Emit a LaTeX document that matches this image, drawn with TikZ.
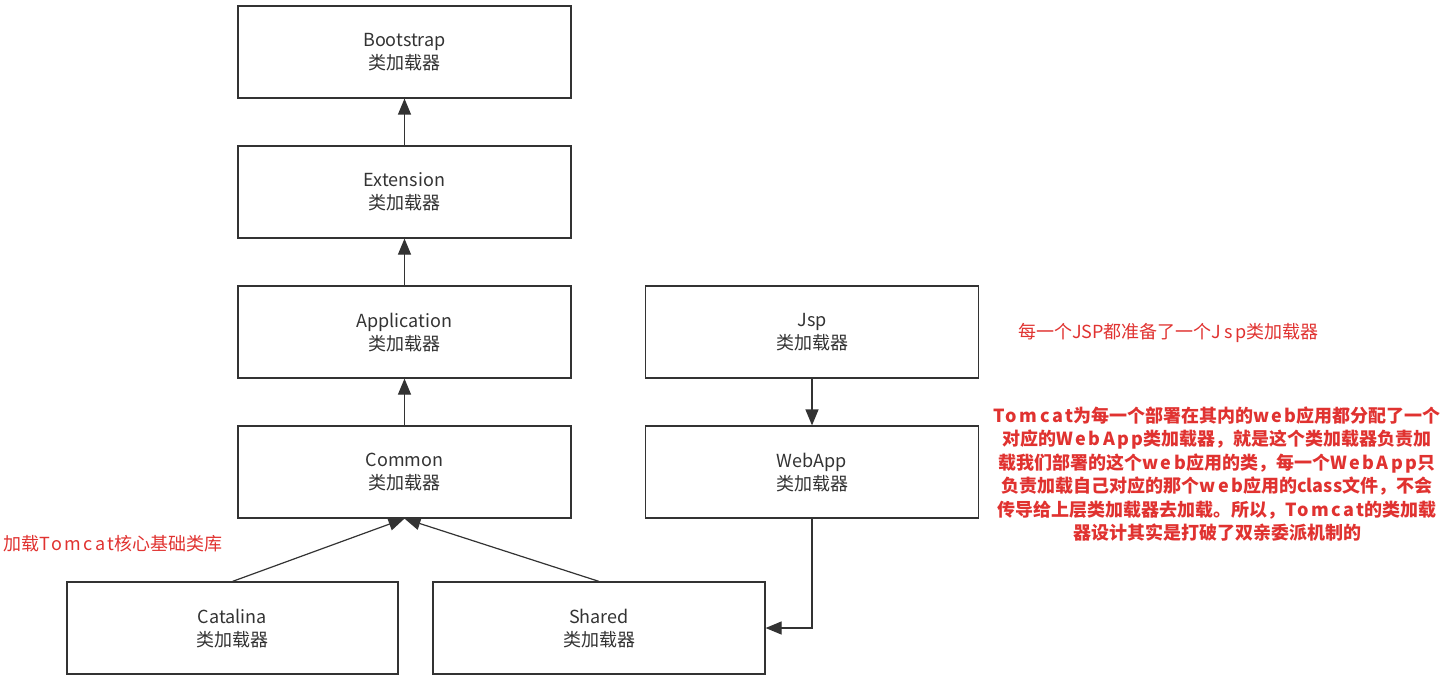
\documentclass[tikz,border=0pt]{standalone}
\usepackage{fontspec}
\setmainfont{Noto Sans CJK SC}
\usetikzlibrary{arrows.meta}
\definecolor{boxline}{RGB}{51,51,51}
\definecolor{note}{RGB}{224,50,48}
\newcommand{\wide}[1]{{\addfontfeature{LetterSpace=14}#1}}
\begin{document}
\begin{tikzpicture}[x=1pt,y=-1pt]
\tikzstyle{loader}=[anchor=center,minimum width=333pt,minimum height=92pt,rectangle,draw=boxline,line width=1.2pt,text=boxline,font=\fontsize{18}{23}\selectfont,align=center,inner sep=0pt,text depth=1pt]
\tikzstyle{arrow}=[-{Triangle[length=16pt,width=13pt]},draw=boxline,line width=1.2pt]
\tikzstyle{remark}=[text=note,font=\fontsize{18}{23.5}\selectfont,align=center,inner sep=0pt]

\useasboundingbox (0,0) rectangle (1450,682);

\node [loader] at (404.5, 52) (boot) {Bootstrap\\类加载器};
\node [loader] at (404.5,192) (ext)  {Extension\\类加载器};
\node [loader] at (404.5,332) (app)  {Application\\类加载器};
\node [loader] at (404.5,472) (common) {Common\\类加载器};

\node [loader] at (812,332) (jsp)    {Jsp\\类加载器};
\node [loader] at (812,472) (webapp) {WebApp\\类加载器};

\node [loader,minimum width=331pt] at (232.5,628) (catalina) {Catalina\\类加载器};
\node [loader,minimum width=332pt] at (599,628) (shared) {Shared\\类加载器};

\draw [arrow] (ext) -- (boot);
\draw [arrow] (app) -- (ext);
\draw [arrow] (common) -- (app);
\draw [arrow] (jsp) -- (webapp);
\draw [arrow] (catalina.north) -- (common.south);
\draw [arrow] (shared.north) -- (common.south);
\draw [arrow] (webapp.south) |- (shared.east);

\node [remark,anchor=west] at (1018,333) (jspnote) {每一个JSP都准备了一个\wide{Jsp}类加载器};
\node [remark,anchor=west] at (3,544) (commonnote) {加载\wide{Tomcat}核心基础类库};
\node [remark,font=\bfseries\fontsize{18}{23.5}\selectfont] at (1217,474) (webappnote)
  {\wide{Tomcat}为每一个部署在其内的\wide{web}应用都分配了一个\\
   对应的\wide{WebApp}类加载器，就是这个类加载器负责加\\
   载我们部署的这个\wide{web}应用的类，每一个\wide{WebApp}只\\
   负责加载自己对应的那个\wide{web}应用的class文件，不会\\
   传导给上层类加载器去加载。所以，\wide{Tomcat}的类加载\\
   器设计其实是打破了双亲委派机制的};
\end{tikzpicture}
\end{document}
